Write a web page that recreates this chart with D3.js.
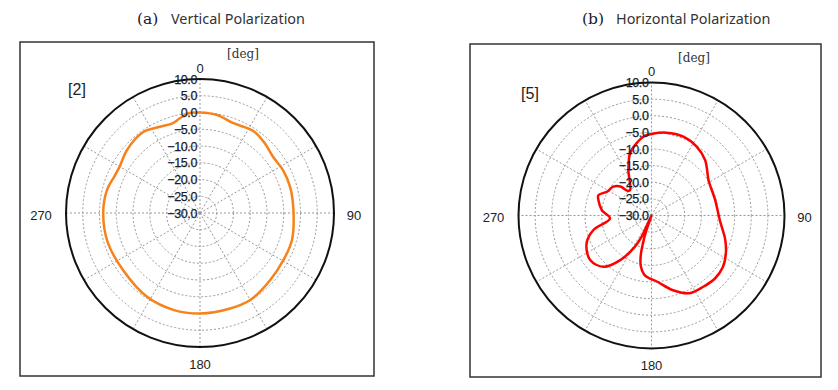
<!DOCTYPE html>
<html>
<head>
<meta charset="utf-8">
<script src="https://cdn.jsdelivr.net/npm/d3@7"></script>
<style>
  body { margin: 0; background: #fff; }
  svg { display: block; }
</style>
</head>
<body>
<svg id="chart" width="838" height="390"></svg>
<script>
// ring values (dB) and spoke angles
const ringTicks = [10, 5, 0, -5, -10, -15, -20, -25, -30];
const spokeAngles = [0, 30, 60, 90, 120, 150, 180, 210, 240, 270, 300, 330];
const angleLabels = [0, 90, 180, 270];

// (a) vertical polarization
const vAngles = [0, 10, 20, 33, 42, 53, 63, 74, 88, 106, 119, 134, 150, 163, 180, 195, 212,
                 233, 252, 270, 284, 293, 300, 311, 325, 335, 343, 348, 354];
const vGain = [0.0, -0.3, -1.4, -0.8, -1.5, -2.5, -2.1, -2.0, -2.1, -1.4, -1.4, -1.0, 0.0, -0.1, 0.0, 0.0, -0.4,
               -1.4, -1.1, -1.1, -1.4, -2.2, -2.3, -1.2, -0.5, -1.6, -2.0, -1.1, 0.0];

// (b) horizontal polarization
const hAngles = [0, 10, 22, 33, 44, 58, 63, 76, 94, 108, 117, 126, 135, 144, 154, 164, 175,
                 186, 192, 195, 197, 199, 201, 205, 208, 215, 223, 234, 247, 256, 266, 276, 286, 291,
                 298, 307, 313, 316, 320, 333, 341, 348, 355];
const hGain = [-5.5, -4.7, -4.4, -5.2, -6.8, -9.8, -10.2, -10.3, -9.4, -6.7, -4.9, -3.5, -3.1, -3.5, -4.0, -6.6, -10.0,
               -11.8, -14.5, -17.5, -21.0, -25.0, -30, -23.0, -19.4, -13.6, -8.9, -7.2, -8.8, -12.0, -17.5, -15.0, -13.4, -12.9,
               -14.8, -15.6, -17.2, -19.7, -20.0, -14.7, -10.2, -7.9, -6.0];

const svg = d3.select('#chart');
const fmt = v => (v < 0 ? '\u2212' : '') + Math.abs(v).toFixed(1);

function drawPanel(p) {
    // frame
    svg.append('rect')
        .attr('x', p.box[0]).attr('y', p.box[1])
        .attr('width', p.box[2]).attr('height', p.box[3])
        .attr('fill', 'none').attr('stroke', '#333').attr('stroke-width', 1.5);

    // title
    const t = svg.append('g');
    t.append('text')
        .attr('x', p.titleX).attr('y', 24)
        .style('font-family', '"DejaVu Serif", "Liberation Serif", serif')
        .style('font-size', '15.5px').style('fill', '#1a1a2e')
        .text(p.letter);
    t.append('text')
        .attr('x', p.titleX + 34).attr('y', 24)
        .style('font-family', '"Noto Sans", sans-serif')
        .style('font-size', '14.4px').style('fill', '#333')
        .text(p.title);

    const r = d3.scaleLinear().domain([-30, 10]).range([0, p.R]).clamp(true);
    const g = svg.append('g').attr('transform', `translate(${p.cx},${p.cy})`);

    // dotted rings
    g.selectAll('circle.ring')
        .data(ringTicks.filter(d => d > -30 && d < 10))
        .join('circle')
        .attr('class', 'ring')
        .attr('r', d => r(d))
        .attr('fill', 'none').attr('stroke', '#999').attr('stroke-width', 1)
        .attr('stroke-dasharray', '2,2');

    // spokes
    g.selectAll('line.spoke')
        .data(spokeAngles)
        .join('line')
        .attr('class', 'spoke')
        .attr('x1', 0).attr('y1', 0)
        .attr('x2', d => r(10) * Math.sin(d * Math.PI / 180))
        .attr('y2', d => -r(10) * Math.cos(d * Math.PI / 180))
        .attr('stroke', '#999').attr('stroke-width', 1)
        .attr('stroke-dasharray', '2,2');

    // outer circle
    g.append('circle')
        .attr('r', r(10))
        .attr('fill', 'none').attr('stroke', '#111').attr('stroke-width', 2);

    // data curve
    const pts = p.angles.map((a, i) => [a * Math.PI / 180, r(p.gain[i])]);
    const line = d3.lineRadial()
        .angle(d => d[0]).radius(d => d[1])
        .curve(d3.curveCatmullRomClosed.alpha(0.5));
    g.append('path')
        .attr('d', line(pts))
        .attr('fill', 'none').attr('stroke', p.color).attr('stroke-width', 2.5)
        .attr('stroke-linejoin', 'round');

    // ring labels
    g.selectAll('text.rl')
        .data(ringTicks)
        .join('text')
        .attr('class', 'rl')
        .attr('x', -3)
        .attr('y', d => -r(d))
        .attr('dy', '0.36em')
        .attr('text-anchor', 'end')
        .style('font-family', '"Liberation Sans", Arial, sans-serif')
        .style('font-size', '12.5px').style('fill', '#161b2e')
        .style('stroke', '#161b2e').style('stroke-width', 0.25)
        .style('letter-spacing', '-0.4px')
        .text(fmt);

    // angle labels
    const off = { 0: [0, -r(10) - 11], 90: [r(10) + 20, 2], 180: [0, r(10) + 17], 270: [-r(10) - 25, 2] };
    g.selectAll('text.al')
        .data(angleLabels)
        .join('text')
        .attr('class', 'al')
        .attr('x', d => off[d][0]).attr('y', d => off[d][1])
        .attr('dy', '0.36em')
        .attr('text-anchor', 'middle')
        .style('font-family', '"Liberation Sans", Arial, sans-serif')
        .style('font-size', '13px').style('fill', '#222')
        .text(d => d);

    svg.append('text')
        .attr('x', p.degX).attr('y', p.degY).attr('dy', '0.36em')
        .attr('text-anchor', 'middle')
        .style('font-family', '"DejaVu Serif", serif')
        .style('font-size', '12px').style('fill', '#333')
        .text('[deg]');
    svg.append('text')
        .attr('x', p.tagX).attr('y', p.tagY).attr('dy', '0.36em')
        .attr('text-anchor', 'middle')
        .style('font-family', '"Liberation Sans", Arial, sans-serif')
        .style('font-size', '16px').style('fill', '#222')
        .text(p.tag);
}

drawPanel({
    box: [20, 42, 354, 334], letter: '(a)', title: 'Vertical Polarization', titleX: 137,
    cx: 200, cy: 213, R: 134, color: '#f7821a', angles: vAngles, gain: vGain,
    degX: 243, degY: 54, tag: '[2]', tagX: 77, tagY: 89
});
drawPanel({
    box: [470, 44, 351, 333], letter: '(b)', title: 'Horizontal Polarization', titleX: 582,
    cx: 651.5, cy: 215.5, R: 133, color: '#ff0000', angles: hAngles, gain: hGain,
    degX: 694, degY: 58, tag: '[5]', tagX: 530, tagY: 93
});
</script>
</body>
</html>
